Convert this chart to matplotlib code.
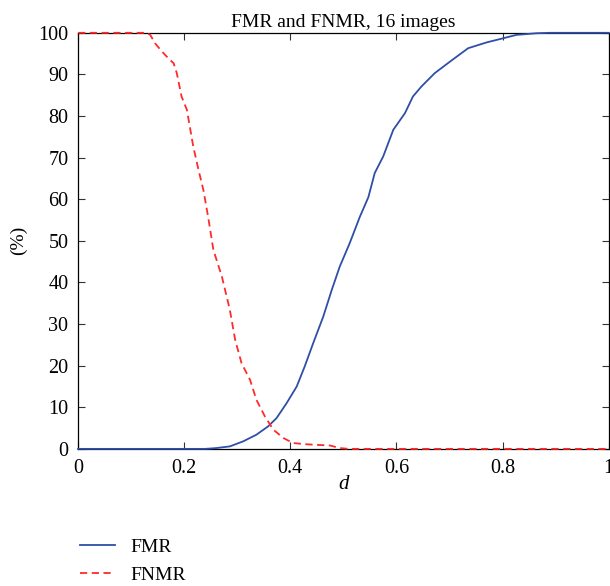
import matplotlib.pyplot as plt

plt.rcParams['font.family'] = ['Liberation Serif', 'DejaVu Serif']

# FMR curve
fmr_d = [0.0, 0.24, 0.261, 0.286, 0.311, 0.336, 0.358, 0.374, 0.393, 0.412, 0.427,
         0.443, 0.462, 0.478, 0.493, 0.512, 0.531, 0.547, 0.559, 0.575, 0.594,
         0.616, 0.631, 0.647, 0.672, 0.701, 0.735, 0.770, 0.795, 0.826, 0.864,
         0.89, 1.0]
fmr = [0.0, 0.0, 0.2, 0.6, 1.8, 3.4, 5.4, 7.4, 11.0, 15.0, 19.8,
       25.4, 31.8, 38.2, 43.8, 49.5, 55.8, 60.5, 66.3, 70.3, 76.7,
       80.7, 84.7, 87.1, 90.3, 93.1, 96.3, 97.7, 98.5, 99.5, 99.9,
       100.0, 100.0]

# FNMR curve
fnmr_d = [0.0, 0.129, 0.136, 0.145, 0.158, 0.173, 0.18, 0.186, 0.195, 0.205,
          0.217, 0.227, 0.236, 0.245, 0.255, 0.271, 0.286, 0.296, 0.308, 0.324,
          0.336, 0.352, 0.368, 0.387, 0.405, 0.431, 0.475, 0.493, 0.51, 1.0]
fnmr = [100.0, 100.0, 99.5, 97.5, 95.5, 93.5, 92.7, 90.3, 84.7, 81.5,
        72.7, 67.0, 62.3, 55.8, 47.8, 41.4, 33.4, 26.2, 20.6, 16.6,
        11.8, 7.8, 4.6, 2.6, 1.4, 1.1, 0.8, 0.2, 0.0, 0.0]

fig = plt.figure(figsize=(6.1, 5.86), dpi=100)
ax = fig.add_axes([0.128, 0.234, 0.870, 0.710])

ax.plot(fmr_d, fmr, color='#2f4fa6', lw=1.3, label='FMR', clip_on=False, zorder=3)
ax.plot(fnmr_d, fnmr, color='#ff2a2a', lw=1.3, ls=(0, (4, 2.5)), label='FNMR',
        clip_on=False, zorder=3)

ax.set_xlim(0, 1)
ax.set_ylim(0, 100)
ax.set_xticks([0, 0.2, 0.4, 0.6, 0.8, 1])
ax.set_xticklabels(['0', '0.2', '0.4', '0.6', '0.8', '1'])
ax.set_yticks(range(0, 101, 10))
ax.tick_params(direction='in', top=True, right=True, labelsize=14.5, length=5,
               pad=7, color='#333333')
for s in ax.spines.values():
    s.set_linewidth(0.9)

ax.set_title('FMR and FNMR, 16 images', fontsize=14, pad=4)
ax.set_xlabel('d', fontstyle='italic', fontsize=15, labelpad=-2)
ax.set_ylabel('(%)', fontsize=14, labelpad=8)

fig.legend(loc='upper left', bbox_to_anchor=(0.118, 0.094), frameon=False,
           fontsize=14, handlelength=1.8, handletextpad=0.8, labelspacing=0.5,
           borderaxespad=0)

fig.savefig('out.png', dpi=100)
